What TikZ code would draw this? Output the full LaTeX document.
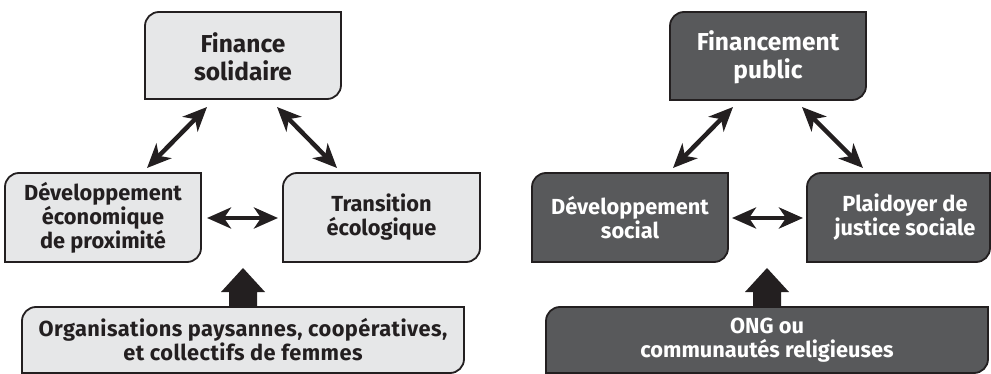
\documentclass[tikz,border=0pt]{standalone}
\usepackage{fontspec}
\newfontfamily\boxfont{Fira Sans}
\usetikzlibrary{calc,arrows.meta,backgrounds}
\definecolor{ink}{HTML}{231F20}
\definecolor{paper}{HTML}{E6E7E8}
\definecolor{slate}{HTML}{58595B}
\newcommand\cornerr{14}
% box with rounded top-left and bottom-right corners, drawn around a text node
% #1 node, #2 fill, #3 left, #4 right, #5 top, #6 bottom (distances from the node centre)
\newcommand\cutbox[6]{%
  \filldraw[boxline, fill=#2]
    ($(#1.center)+(-#3,#5-\cornerr)$) arc[start angle=180,end angle=90,radius=\cornerr]
    -- ($(#1.center)+(#4,#5)$)
    -- ($(#1.center)+(#4,-#6+\cornerr)$) arc[start angle=0,end angle=-90,radius=\cornerr]
    -- ($(#1.center)+(-#3,-#6)$) -- cycle;}
\tikzset{
  boxline/.style={draw=ink, line width=1.8pt},
  lbl/.style={align=center, inner sep=0pt, font=\boxfont\bfseries\fontsize{21.8}{24}\selectfont},
  toplbl/.style={lbl, font=\boxfont\bfseries\fontsize{24.5}{28}\selectfont},
  widelbl/.style={lbl, font=\boxfont\bfseries\addfontfeatures{LetterSpace=2}\fontsize{21.8}{24}\selectfont},
  onlight/.style={text=ink},
  ondark/.style={text=white},
  dbl/.style={draw=ink, line width=4.5pt,
    {Stealth[length=24pt,width=21pt,inset=7pt]}-{Stealth[length=24pt,width=21pt,inset=7pt]}},
}
\begin{document}
\begin{tikzpicture}[x=1pt,y=1pt]
\useasboundingbox (0,0) rectangle (991,-374);

% left diagram
\node[toplbl,onlight] (FS) at (243,-57) {Finance\\solidaire};
\node[lbl,onlight] (DE) at (103,-217.5) {Développement\\économique\\de proximité};
\node[lbl,onlight] (TE) at (381.5,-217.5) {Transition\\écologique};
\node[widelbl,onlight] (OP) at (243,-340) {Organisations paysannes, coopératives,\\et collectifs de femmes};

% right diagram
\node[toplbl,ondark] (FP) at (768,-57) {Financement\\public};
\node[lbl,ondark] (DS) at (630,-217.5) {Développement\\social};
\node[lbl,ondark] (PJ) at (905,-217.5) {Plaidoyer de\\justice sociale};
\node[lbl,ondark] (ON) at (767,-340) {ONG ou\\communautés religieuses};

\begin{scope}[on background layer]
  \cutbox{FS}{paper}{98}{98}{45}{42}
  \cutbox{DE}{paper}{98}{98}{44.5}{44.5}
  \cutbox{TE}{paper}{98.5}{98.5}{44.5}{44.5}
  \cutbox{OP}{paper}{221}{221}{33}{33}
  \cutbox{FP}{slate}{98}{98}{45}{43}
  \cutbox{DS}{slate}{98}{98}{44.5}{44.5}
  \cutbox{PJ}{slate}{98}{85}{44.5}{44.5}
  \cutbox{ON}{slate}{221}{221}{33}{33}
\end{scope}

% two-way links, left
\draw[dbl] ($(FS.center)+(-36,-50)$) -- ($(DE.center)+(44,49.5)$);
\draw[dbl] ($(FS.center)+(34,-50)$) -- ($(TE.center)+(-44.5,49.5)$);
\draw[dbl] ($(DE.center)+(104,-0.5)$) -- ($(TE.center)+(-103.5,-0.5)$);
% two-way links, right
\draw[dbl] ($(FP.center)+(-35,-50)$) -- ($(DS.center)+(43,49.5)$);
\draw[dbl] ($(FP.center)+(34,-50)$) -- ($(PJ.center)+(-42,49.5)$);
\draw[dbl] ($(DS.center)+(102,-0.5)$) -- ($(PJ.center)+(-102,-0.5)$);

% broad upward arrows
\foreach \n in {OP,ON}{
  \fill[ink] ($(\n.center)+(-14,33)$) -- ($(\n.center)+(-14,48)$) -- ($(\n.center)+(-22,48)$)
    -- ($(\n.center)+(0,72)$) -- ($(\n.center)+(22,48)$) -- ($(\n.center)+(14,48)$)
    -- ($(\n.center)+(14,33)$) -- cycle;
}
\end{tikzpicture}
\end{document}
